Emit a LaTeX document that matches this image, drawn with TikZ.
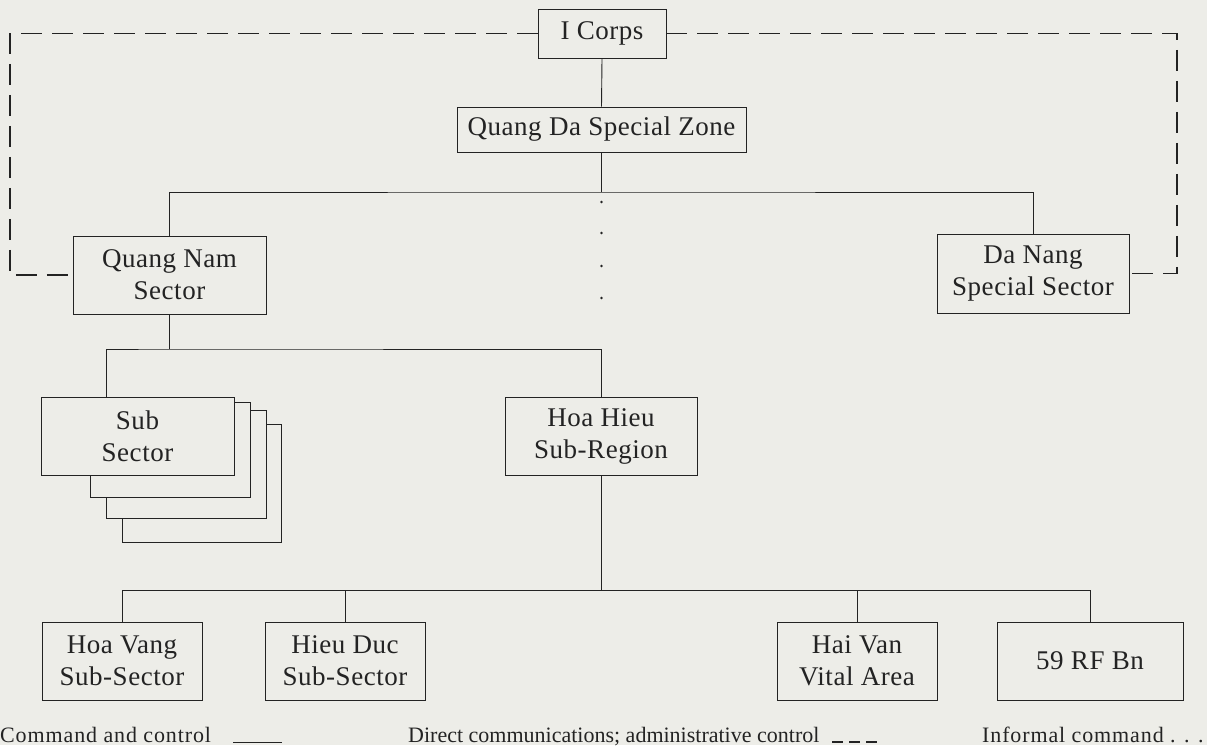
\documentclass[tikz,border=0pt]{standalone}
\usepackage{fontspec}
\setmainfont{Liberation Serif}[LetterSpace=2]
\newfontfamily\legendfont{Liberation Serif}[LetterSpace=4]
\newfontfamily\legendplain{Liberation Serif}
\definecolor{bgc}{RGB}{237,237,232}
\definecolor{ink}{RGB}{35,35,35}
\begin{document}
\begin{tikzpicture}[x=1pt,y=-1pt,
  box/.style={draw=ink,line width=0.9pt,fill=bgc,inner sep=0pt,align=center,
    font=\fontsize{27}{32}\selectfont,text=ink},
  conn/.style={draw=ink,line width=0.9pt},
  admin/.style={draw=ink,line width=1.2pt,dash pattern=on 21pt off 10pt},
  legend/.style={anchor=base west,inner sep=0pt,font=\legendfont\fontsize{22}{26}\selectfont,text=ink},
  legendb/.style={anchor=base west,inner sep=0pt,font=\legendplain\fontsize{22}{26}\selectfont,text=ink}]
\fill[bgc] (0,0) rectangle (1207,745);
\useasboundingbox (0,0) rectangle (1207,745);
% nodes
\node[box,minimum width=128pt,minimum height=49pt] (icorps) at (602,33.5) {I Corps};
\node[box,minimum width=289pt,minimum height=45pt] (qdsz) at (601.5,129.5) {Quang Da Special Zone};
\node[box,minimum width=193pt,minimum height=78pt] (qn) at (169.5,275) {Quang Nam\\Sector};
\node[box,minimum width=192pt,minimum height=79pt] (dn) at (1033,273.5) {Da Nang\\Special Sector};
% stacked sub sector
\draw[conn,fill=bgc] (122,424) rectangle (281,542);
\draw[conn,fill=bgc] (106,410) rectangle (266,518);
\draw[conn,fill=bgc] (90,402) rectangle (250,497);
\node[box,minimum width=193pt,minimum height=78pt] (ss) at (137.5,436) {Sub\\Sector};
\node[box,minimum width=192pt,minimum height=78pt] (hh) at (601,436) {Hoa Hieu\\Sub-Region};
\node[box,minimum width=160pt,minimum height=78pt] (hv) at (122,661) {Hoa Vang\\Sub-Sector};
\node[box,minimum width=160pt,minimum height=78pt] (hd) at (345,661) {Hieu Duc\\Sub-Sector};
\node[box,minimum width=160pt,minimum height=78pt] (hai) at (857,661) {Hai Van\\Vital Area};
\node[box,minimum width=186pt,minimum height=78pt] (rf) at (1090,661) {59 RF Bn};
% coordinates
\coordinate (qbr) at (601.5,192);
\coordinate (qnbr) at (169.5,349);
\coordinate (ssTop) at (106,397);
\coordinate (hbr) at (601,590);
\coordinate (lcorner) at (10,275);
\coordinate (rcorner) at (1177,273.5);
% command and control
\draw[conn] (icorps.south) -- (qdsz.north);
\draw[conn] (qdsz.south) -- (qbr);
\draw[conn] (qn.north) |- (qbr) -| (dn.north);
\draw[conn] (qn.south) -- (qnbr);
\draw[conn] (ssTop) |- (qnbr) -| (hh.north);
\draw[conn] (hh.south) -- (hbr);
\draw[conn] (hv.north) |- (hbr) -| (rf.north);
\draw[conn] (hd.north) -- (hd.north |- hbr);
\draw[conn] (hai.north) -- (hai.north |- hbr);
% administrative control
\draw[admin] (icorps.west) -| (lcorner) -- (qn.west);
\draw[admin] (icorps.east) -| (rcorner) -- (dn.east);
% informal command
\foreach \yy in {202,233,266,298} \fill[ink] (601.5,\yy) circle (1.4pt);
% legend
\node[legend] (l1) at (0,742) {Command and control};
\draw[conn] (233,742) -- (282,742);
\node[legendb] (l2) at (408,742) {Direct communications; administrative control};
\draw[admin,dash pattern=on 11pt off 6pt] (832,742) -- (880,742);
\node[legend] (l3) at (982,742) {Informal command . . .};
\end{tikzpicture}
\end{document}
